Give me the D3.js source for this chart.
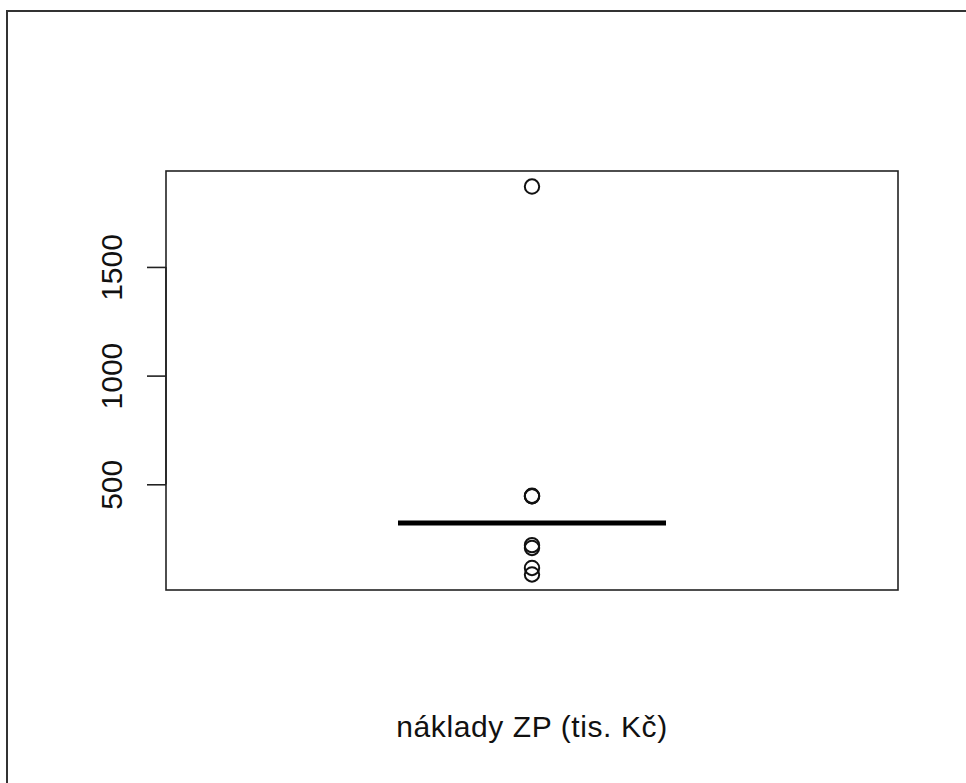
<!DOCTYPE html>
<html><head><meta charset="utf-8">
<script src="https://cdn.jsdelivr.net/npm/d3@7"></script>
<style>html,body{margin:0;padding:0;background:#fff}svg{display:block}</style>
</head><body>
<svg id="c" width="966" height="783"></svg>
<script>
const categories = ["náklady ZP (tis. Kč)"];
const boxStats = [322, 322, 322, 322, 322]; // lower whisker, Q1, median, Q3, upper whisker
const outliers = [85, 115, 207, 220, 445, 445, 447, 1870];
const yTicks = [500, 1000, 1500];
const xLabel = "náklady ZP (tis. Kč)";

const svg = d3.select("#c");
const L = 166, R = 898, T = 171, B = 590;
const all = boxStats.concat(outliers);
const mn = d3.min(all), mx = d3.max(all), ext = (mx - mn) * 0.04;
const y = d3.scaleLinear().domain([mn - ext, mx + ext]).range([B, T]);
const x = d3.scaleBand().domain(categories).range([L, R]).paddingInner(0).paddingOuter(0);
const cx = x(categories[0]) + x.bandwidth() / 2;
const halfW = 134;

// outer frame
svg.append("path").attr("d", `M7,783 V11 H966`).attr("fill", "none").attr("stroke", "#333").attr("stroke-width", 2);

// plot box
svg.append("rect").attr("x", L).attr("y", T).attr("width", R - L).attr("height", B - T)
  .attr("fill", "none").attr("stroke", "#222").attr("stroke-width", 1.6);

// y axis
const ax = d3.axisLeft(y).tickValues(yTicks).tickSize(19).tickPadding(0).tickFormat(d3.format("d"));
const g = svg.append("g").attr("transform", `translate(${L},0)`).call(ax);
g.select(".domain").attr("stroke", "#222").attr("stroke-width", 1.6)
  .attr("d", `M0,${y(yTicks[0])}V${y(yTicks[yTicks.length-1])}`);
g.selectAll(".tick line").attr("stroke", "#222").attr("stroke-width", 1.6);
g.selectAll(".tick text").attr("fill", "#111")
  .style("font-family", "Liberation Sans, Arial, sans-serif").style("font-size", "30px")
  .attr("transform", "rotate(-90)").attr("x", 0).attr("y", -44).attr("dy", 0)
  .attr("text-anchor", "middle");

// box (collapsed) + whiskers
const [wl, q1, med, q3, wh] = boxStats;
svg.append("rect").attr("x", cx - halfW).attr("y", y(q3)).attr("width", halfW * 2).attr("height", y(q1) - y(q3))
  .attr("fill", "none").attr("stroke", "#000").attr("stroke-width", 1.5);
svg.append("line").attr("x1", cx - halfW).attr("x2", cx + halfW).attr("y1", y(med)).attr("y2", y(med))
  .attr("stroke", "#000").attr("stroke-width", 5);

// outliers
svg.selectAll("circle.o").data(outliers).join("circle").attr("class", "o")
  .attr("cx", cx).attr("cy", d => y(d)).attr("r", 7.2)
  .attr("fill", "none").attr("stroke", "#111").attr("stroke-width", 2);

// x label
svg.append("text").attr("x", cx).attr("y", 737).attr("text-anchor", "middle")
  .style("font-family", "Liberation Sans, Arial, sans-serif").style("font-size", "30px")
  .style("letter-spacing", "0.6px").attr("fill", "#111")
  .text(xLabel);
</script>
</body></html>
